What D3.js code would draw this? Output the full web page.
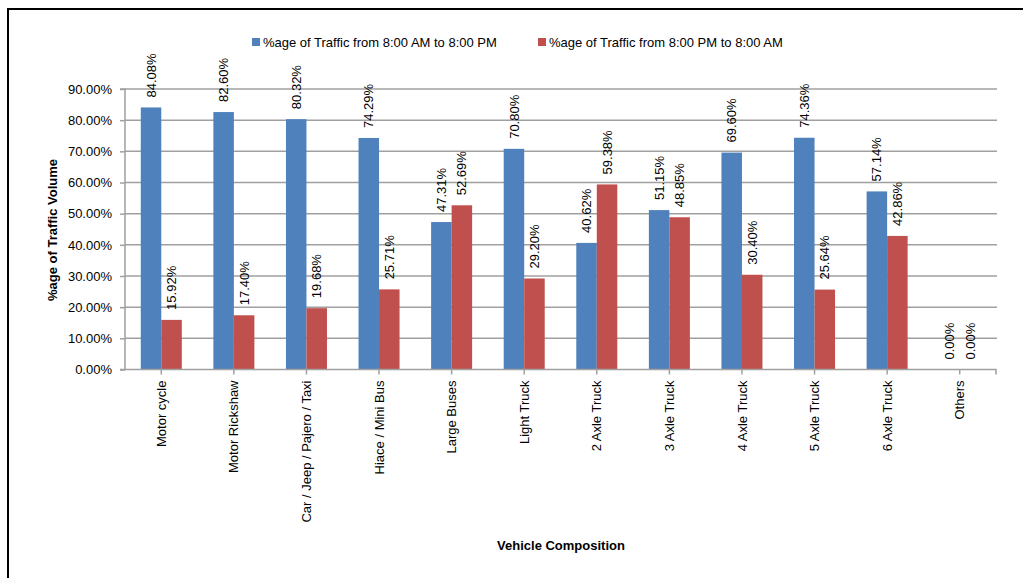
<!DOCTYPE html>
<html>
<head>
<meta charset="utf-8">
<script src="https://cdn.jsdelivr.net/npm/d3@7"></script>
<style>
  html, body { margin: 0; padding: 0; background: #fff; }
  svg { display: block; font-family: "Liberation Sans", Arial, sans-serif; }
</style>
</head>
<body>
<svg id="chart" width="1023" height="578"></svg>
<script>
const categories = ["Motor cycle", "Motor Rickshaw", "Car / Jeep / Pajero / Taxi", "Hiace / Mini Bus",
  "Large Buses", "Light Truck", "2 Axle Truck", "3 Axle Truck", "4 Axle Truck", "5 Axle Truck",
  "6 Axle Truck", "Others"];
const dayValues = [84.08, 82.60, 80.32, 74.29, 47.31, 70.80, 40.62, 51.15, 69.60, 74.36, 57.14, 0.00];
const nightValues = [15.92, 17.40, 19.68, 25.71, 52.69, 29.20, 59.38, 48.85, 30.40, 25.64, 42.86, 0.00];
const seriesNames = ["%age of Traffic from 8:00 AM to 8:00 PM", "%age of Traffic from 8:00 PM to 8:00 AM"];
const yTicks = [0, 10, 20, 30, 40, 50, 60, 70, 80, 90];
const colors = ["#4F81BD", "#C0504D"];

const svg = d3.select("#chart");
const W = 1023, H = 578;

// outer border
svg.append("rect").attr("x", 8).attr("y", 9).attr("width", W + 20).attr("height", H + 20)
  .attr("fill", "none").attr("stroke", "#000").attr("stroke-width", 2);

const x0 = 125, x1 = 996, yBottom = 369.5, yTop = 89;
const x = d3.scaleBand().domain(categories).range([x0, x1]).paddingInner(0.435).paddingOuter(0.2175);
const xs = d3.scaleBand().domain([0, 1]).range([0, x.bandwidth()]);
const y = d3.scaleLinear().domain([0, 90]).range([yBottom, yTop]);

const gridColor = "#A0A0A0";

// gridlines
svg.append("g").selectAll("line").data(yTicks.filter(d => d > 0)).join("line")
  .attr("x1", x0).attr("x2", x1 + 1)
  .attr("y1", d => y(d)).attr("y2", d => y(d))
  .attr("stroke", gridColor).attr("stroke-width", 1.5);

// bars
const series = [dayValues, nightValues];
series.forEach((vals, si) => {
  svg.append("g").selectAll("rect").data(categories).join("rect")
    .attr("x", (c) => x(c) + xs(si))
    .attr("width", xs.bandwidth())
    .attr("y", (c, i) => y(vals[i]))
    .attr("height", (c, i) => yBottom - y(vals[i]))
    .attr("fill", colors[si]);
});

// y axis
const yAxis = d3.axisLeft(y).tickValues(yTicks).tickSize(5).tickFormat(d => d.toFixed(2) + "%");
const gy = svg.append("g").attr("transform", `translate(${x0},0)`).call(yAxis);
gy.select(".domain").attr("stroke", gridColor).attr("stroke-width", 1.5).attr("d", `M-5,${yTop}H0V${yBottom}H-5`);
gy.selectAll(".tick line").attr("stroke", gridColor).attr("stroke-width", 1.5);
gy.selectAll(".tick text").attr("font-size", 13).attr("fill", "#000").attr("x", -13)
  .attr("font-family", "Liberation Sans, Arial, sans-serif");

// x axis
const gx = svg.append("g").attr("transform", `translate(0,${yBottom})`).call(
  d3.axisBottom(x).tickSize(5).tickSizeOuter(0).tickFormat(d => d));
gx.select(".domain").attr("stroke", gridColor).attr("stroke-width", 1.5).attr("d", `M${x0},0H${x1}V5`);
gx.selectAll(".tick line").attr("stroke", gridColor).attr("stroke-width", 1.5);
gx.selectAll(".tick text")
  .attr("font-size", 13).attr("fill", "#000")
  .attr("font-family", "Liberation Sans, Arial, sans-serif")
  .attr("text-anchor", "end")
  .attr("transform", "rotate(-90)")
  .attr("x", -11).attr("y", 0).attr("dy", "0.35em");

// data labels
series.forEach((vals, si) => {
  svg.append("g").selectAll("text").data(categories).join("text")
    .attr("transform", (c, i) => {
      const cx = x(c) + xs(si) + xs.bandwidth() / 2;
      const ty = y(vals[i]) - 10;
      return `translate(${cx},${ty}) rotate(-90)`;
    })
    .attr("dy", "0.35em")
    .attr("text-anchor", "start")
    .attr("font-size", 13)
    .attr("fill", "#000")
    .text((c, i) => vals[i].toFixed(2) + "%");
});

// axis titles
svg.append("text")
  .attr("transform", `translate(52,230) rotate(-90)`)
  .attr("text-anchor", "middle").attr("dy", "0.35em")
  .attr("font-size", 13).attr("font-weight", "bold")
  .text("%age of Traffic Volume");

svg.append("text")
  .attr("x", 561).attr("y", 545).attr("dy", "0.35em")
  .attr("text-anchor", "middle")
  .attr("font-size", 13).attr("font-weight", "bold")
  .text("Vehicle Composition");

// legend
const legendX = [252, 538];
seriesNames.forEach((name, i) => {
  svg.append("rect").attr("x", legendX[i]).attr("y", 38).attr("width", 8).attr("height", 8).attr("fill", colors[i]);
  svg.append("text").attr("x", legendX[i] + 11).attr("y", 42).attr("dy", "0.35em")
    .attr("font-size", 13).attr("fill", "#000").text(name);
});
</script>
</body>
</html>
